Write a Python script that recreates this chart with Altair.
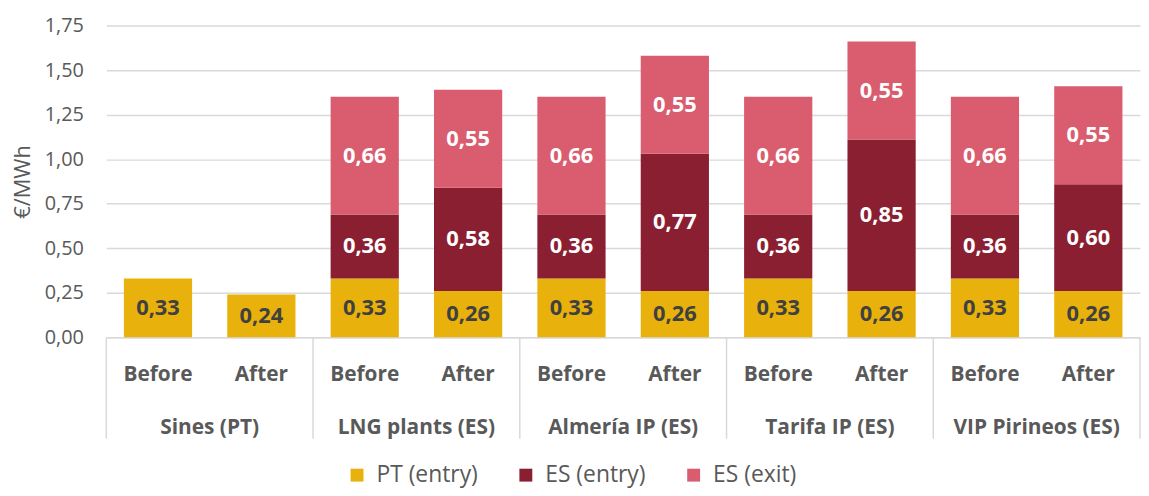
import altair as alt
import pandas as pd

locations = ["Sines (PT)", "LNG plants (ES)", "Almería IP (ES)", "Tarifa IP (ES)", "VIP Pirineos (ES)"]
periods = ["Before", "After"]
series = ["PT (entry)", "ES (entry)", "ES (exit)"]
colors = ["#E9B10B", "#8B1F32", "#D95C6F"]

# values per bar, in order: Sines Before, Sines After, LNG Before, LNG After, ...
pt_entry = [0.33, 0.24, 0.33, 0.26, 0.33, 0.26, 0.33, 0.26, 0.33, 0.26]
es_entry = [None, None, 0.36, 0.58, 0.36, 0.77, 0.36, 0.85, 0.36, 0.60]
es_exit = [None, None, 0.66, 0.55, 0.66, 0.55, 0.66, 0.55, 0.66, 0.55]

keys = [f"{loc}|{p}" for loc in locations for p in periods]

rows = []
for i, k in enumerate(keys):
    for s_i, (s, vals) in enumerate(zip(series, [pt_entry, es_entry, es_exit])):
        v = vals[i]
        if v is not None:
            rows.append({"key": k, "series": s, "order": s_i, "value": v})
df = pd.DataFrame(rows)

groups = pd.DataFrame({
    "location": locations,
    "before_key": [f"{loc}|Before" for loc in locations],
    "after_key": [f"{loc}|After" for loc in locations],
})

FONT = "Open Sans"
GRAY = "#595959"
W, H = 1041, 314

xscale = alt.Scale(domain=keys, paddingInner=0, paddingOuter=0)

x_axis = alt.Axis(
    title=None, labelExpr="split(datum.label, '|')[1]", labelAngle=0,
    labelFont=FONT, labelFontSize=21, labelFontWeight="bold", labelColor=GRAY,
    labelPadding=37, labelBaseline="middle", ticks=False,
    domainColor="#D9D9D9", domainWidth=1.5, grid=False,
)
y_axis = alt.Axis(
    title="€/MWh", values=[0, 0.25, 0.5, 0.75, 1.0, 1.25, 1.5, 1.75],
    labelExpr="replace(format(datum.value, '.2f'), '.', ',')",
    labelFont=FONT, labelFontSize=20, labelColor=GRAY, labelPadding=23,
    titleFont=FONT, titleFontSize=22, titleFontWeight="normal", titleColor=GRAY,
    titlePadding=10, ticks=False, domain=False,
    gridColor="#D9D9D9", gridWidth=1.5,
)

bars = alt.Chart(df).mark_bar(width=alt.RelativeBandSize(0.66)).encode(
    x=alt.X("key:N", scale=xscale, axis=x_axis, sort=keys),
    y=alt.Y("value:Q", stack="zero", scale=alt.Scale(domain=[0, 1.75], nice=False), axis=y_axis),
    color=alt.Color("series:N", scale=alt.Scale(domain=series, range=colors),
                    legend=alt.Legend(title=None, orient="none", direction="horizontal",
                                      legendX=241, legendY=441,
                                      symbolType="square", symbolSize=169, symbolStrokeWidth=0,
                                      labelFont=FONT, labelFontSize=23, labelColor=GRAY,
                                      labelOffset=8, columnPadding=36)),
    order=alt.Order("order:Q"),
)

labels = alt.Chart(df).transform_stack(
    stack="value", groupby=["key"], as_=["y0", "y1"], sort=[alt.SortField("order")]
).transform_calculate(
    mid="(datum.y0 + datum.y1) / 2",
    label="replace(format(datum.value, '.2f'), '.', ',')",
).mark_text(font=FONT, fontSize=22, fontWeight="bold", baseline="middle").encode(
    x=alt.X("key:N", scale=xscale, sort=keys),
    y=alt.Y("mid:Q"),
    text="label:N",
    color=alt.condition(alt.datum.series == "PT (entry)", alt.value("#404040"), alt.value("white")),
)

group_labels = alt.Chart(groups).mark_text(
    font=FONT, fontSize=21, fontWeight="bold", color=GRAY, baseline="middle"
).encode(
    x=alt.X("after_key:N", scale=xscale, bandPosition=0),
    y=alt.value(H + 91),
    text="location:N",
)

seps = alt.Chart(groups).mark_rule(color="#D9D9D9", strokeWidth=1.5).encode(
    x=alt.X("before_key:N", scale=xscale, bandPosition=0),
    y=alt.value(H),
    y2=alt.value(H + 102),
)
last_sep = alt.Chart(groups).transform_filter(
    alt.datum.location == locations[-1]
).mark_rule(color="#D9D9D9", strokeWidth=1.5).encode(
    x=alt.X("after_key:N", scale=xscale, bandPosition=1),
    y=alt.value(H),
    y2=alt.value(H + 102),
)

chart = alt.layer(bars, labels, seps, last_sep, group_labels).properties(
    width=W, height=H,
    autosize=alt.AutoSizeParams(type="none"),
    padding={"left": 99, "top": 16, "right": 1, "bottom": 150},
).configure_view(stroke=None)

chart.save("out.html", embed_options={"renderer": "svg", "actions": False})
